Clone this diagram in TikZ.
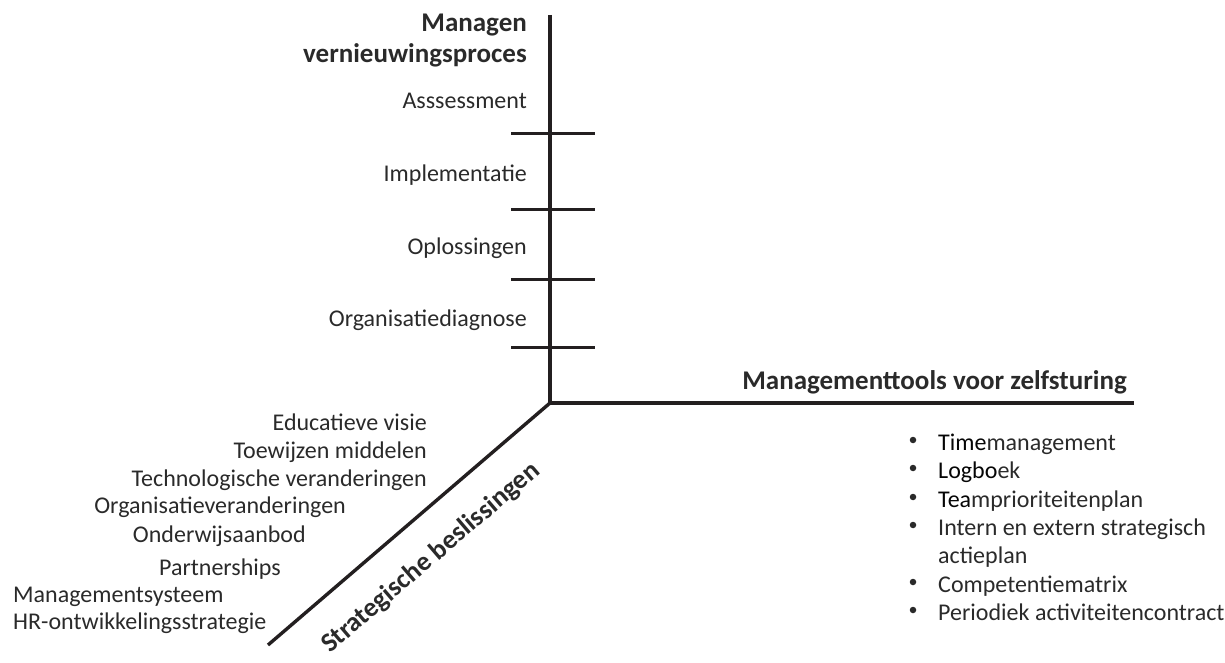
\documentclass[tikz,border=0pt]{standalone}
\usepackage{fontspec}
\setmainfont{Carlito}
\definecolor{txt}{HTML}{2A2A2A}
\definecolor{dark}{HTML}{050505}
\definecolor{axc}{HTML}{231F20}
\begin{document}
\begin{tikzpicture}[x=1pt,y=-1pt,
  lbl/.style={inner sep=0pt, font=\fontsize{24}{28}\selectfont, text=txt},
  hdr/.style={inner sep=0pt, font=\fontsize{27}{32}\selectfont\bfseries, text=txt},
  bul/.style={circle, fill=txt, inner sep=0pt, minimum size=6.5pt},
  axisline/.style={line width=3.4pt, draw=axc},
  tickline/.style={line width=3pt, draw=axc}]
\useasboundingbox (0,0) rectangle (1225,663);
% axes
\coordinate (O) at (550,403);
\coordinate (top) at (550,15);
\coordinate (right) at (1134,403);
\coordinate (dl) at (268,645);
\draw[axisline] (top) -- (O) -- (right);
\draw[axisline] (O) -- (dl);
% ticks
\foreach \n/\y in {1/134,2/209,3/279,4/347}{
  \coordinate (t\n l) at (511,\y);
  \coordinate (t\n r) at (595,\y);
  \draw[tickline] (t\n l) -- (t\n r);
}
% vertical axis labels
\node[hdr, anchor=base east] (h1a) at (527,32) {Managen};
\node[hdr, anchor=base east] (h1b) at (527,63) {vernieuwingsproces};
\node[lbl, anchor=base east] (v1) at (527,109) {Asssessment};
\node[lbl, anchor=base east] (v2) at (527,182) {Implementatie};
\node[lbl, anchor=base east] (v3) at (527,254) {Oplossingen};
\node[lbl, anchor=base east] (v4) at (527,326) {Organisatiediagnose};
% horizontal axis
\node[hdr, anchor=base east] (h2) at (1127,389) {Managementtools voor zelfsturing};
\foreach \n/\y in {1/450,2/478,3/507,4/535,5/592,6/620}{
  \node[bul] (b\n) at (913,\y-10) {};
}
\node[lbl, anchor=base west] (r1) at (938,450) {{\color{dark}Time}management};
\node[lbl, anchor=base west] (r2) at (938,478) {{\color{dark}Logbo}ek};
\node[lbl, anchor=base west] (r3) at (938,507) {{\color{dark}Tea}mprioriteitenplan};
\node[lbl, anchor=base west] (r4) at (938,535) {Intern en extern strategisch};
\node[lbl, anchor=base west] (r4b) at (938,563) {actieplan};
\node[lbl, anchor=base west] (r5) at (938,592) {Competentiematrix};
\node[lbl, anchor=base west] (r6) at (938,620) {Periodiek activiteitencontract};
% diagonal axis
\node[hdr, anchor=center, rotate=40.6] (h3) at (431,558) {Strategische beslissingen};
\node[lbl, anchor=base east] (s1) at (427,430) {Educatieve visie};
\node[lbl, anchor=base east] (s2) at (427,458) {Toewijzen middelen};
\node[lbl, anchor=base east] (s3) at (427,486) {Technologische veranderingen};
\node[lbl, anchor=base east] (s4) at (346,513) {Organisatieveranderingen};
\node[lbl, anchor=base east] (s5) at (306,542) {Onderwijsaanbod};
\node[lbl, anchor=base east] (s6) at (281,575) {Partnerships};
\node[lbl, anchor=base west] (s7) at (13,602) {Managementsysteem};
\node[lbl, anchor=base west] (s8) at (13,629) {HR-ontwikkelingsstrategie};
\end{tikzpicture}
\end{document}
